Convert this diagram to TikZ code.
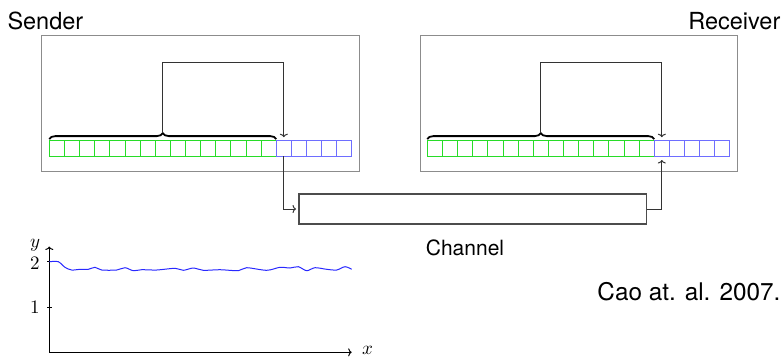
\documentclass[tikz,border=0pt]{standalone}
\usepackage{unicode-math}
\setmathfont{Latin Modern Math}
\newfontfamily\hv{TeX Gyre Heros}
\usetikzlibrary{arrows.meta,decorations.pathreplacing,calc}
\definecolor{cellgreen}{RGB}{40,220,40}
\definecolor{cellblue}{RGB}{110,110,255}
\definecolor{curveblue}{RGB}{40,40,255}
\tikzset{
  cellbox/.style={draw, line width=0.9pt, minimum width=15.13pt, minimum height=15.3pt, inner sep=0pt, outer sep=0pt},
  cellg/.style={cellbox, draw=cellgreen},
  cellb/.style={cellbox, draw=cellblue},
  framebox/.style={draw=black!45, line width=1pt, minimum width=317.5pt, minimum height=136.5pt, inner sep=0pt, outer sep=0pt},
  chanbox/.style={draw=black!70, line width=1.2pt, minimum width=347.7pt, minimum height=30pt, inner sep=0pt, outer sep=0pt},
  conn/.style={draw=black!80, line width=1pt, -{To[length=3.5pt,width=8pt]}},
  bracelinestyle/.style={draw=black, line width=1.8pt, decorate, decoration={brace, amplitude=6pt}},
  lbl/.style={inner sep=0pt, font=\hv\fontsize{23.5}{24}\selectfont},
  mlbl/.style={inner sep=0pt, font=\fontsize{19}{19}\selectfont},
  axis/.style={draw=black, line width=1pt, -{To[length=3.5pt,width=8pt]}}
}
\begin{document}
\begin{tikzpicture}[x=1pt,y=-1pt]
\useasboundingbox (0,0) rectangle (781,357);
% frames
\node[framebox] (sbox) at (200.5,103.25) {};
\node[framebox] (rbox) at (578.8,103.25) {};
% cells
\foreach \i in {1,...,20}{
  \ifnum\i<16
    \node[cellg] (s\i) at ({49.3+(\i-0.5)*15.13},148.35) {};
    \node[cellg] (r\i) at ({427.3+(\i-0.5)*15.13},148.35) {};
  \else
    \node[cellb] (s\i) at ({49.3+(\i-0.5)*15.13},148.35) {};
    \node[cellb] (r\i) at ({427.3+(\i-0.5)*15.13},148.35) {};
  \fi
}
% braces
\draw[bracelinestyle] ([yshift=1.6pt]s1.north west) -- ([yshift=1.6pt]s15.north east);
\draw[bracelinestyle] ([yshift=1.6pt]r1.north west) -- ([yshift=1.6pt]r15.north east);
\coordinate (sb) at ($(s1.north west)!0.5!(s15.north east)+(0,-7.6)$);
\coordinate (rb) at ($(r1.north west)!0.5!(r15.north east)+(0,-7.6)$);
\coordinate (topline) at (0,62);
\draw[conn, shorten >=3.5pt] (sb) -- (sb|-topline) -- (s16.north|-topline) -- (s16.north);
\draw[conn, shorten >=3.5pt] (rb) -- (rb|-topline) -- (r16.north|-topline) -- (r16.north);
% channel
\node[chanbox] (ch) at (472.85,209) {};
\draw[conn, shorten >=3pt] (s16.south) |- (ch.west);
\draw[conn, shorten >=4pt] (ch.east) -| (r16.south);
% labels
\node[lbl, anchor=base west] (sender) at (7.3,29.3) {Sender};
\node[lbl, anchor=base east] (receiver) at (780.5,29.3) {Receiver};
\node[lbl, anchor=base, font=\hv\fontsize{21}{22}\selectfont] (chlabel) at (465,255) {Channel};
\node[lbl, anchor=base east, font=\hv\fontsize{24.3}{25}\selectfont] (cite) at (780.5,300.7) {Cao at. al. 2007.};
% plot
\coordinate (o) at (49.3,352.3);
\coordinate (yend) at (49.3,246.5);
\coordinate (xend) at (351.7,352.3);
\draw[axis] (o) -- (yend);
\draw[axis] (o) -- (xend);
\draw[line width=0.8pt] (47,261.7) -- (51.6,261.7);
\draw[line width=0.8pt] (47,307.3) -- (51.6,307.3);
\node[mlbl, anchor=base] (ylab) at (35,247.7) {$y$};
\node[mlbl, anchor=base] (two) at (35,269.5) {$2$};
\node[mlbl, anchor=base] (one) at (35.3,313.3) {$1$};
\node[mlbl, anchor=base] (xlab) at (368,354.5) {$x$};
\draw[curveblue, line width=1pt, smooth, tension=0.5] plot coordinates {
(49.3,261.7) (58.3,261.7) (65,267.3) (71.7,270) (80,269.3) (88.3,269.3) (95,267.3) (101.7,270) (116.7,270) (125,267.7) (133.3,270.7) (141.7,269.7) (156.7,270) (175,268.3) (183.3,270.3) (193.3,268) (203.3,270.3) (220,269.7) (238.3,270.7) (246.7,267.7) (266.7,270.3) (280,267.3) (290,268) (298.3,266.7) (306.7,270.7) (315,267.7) (326.7,269.3) (336.7,270) (345,266.7) (351.7,269.3)};
\end{tikzpicture}
\end{document}
